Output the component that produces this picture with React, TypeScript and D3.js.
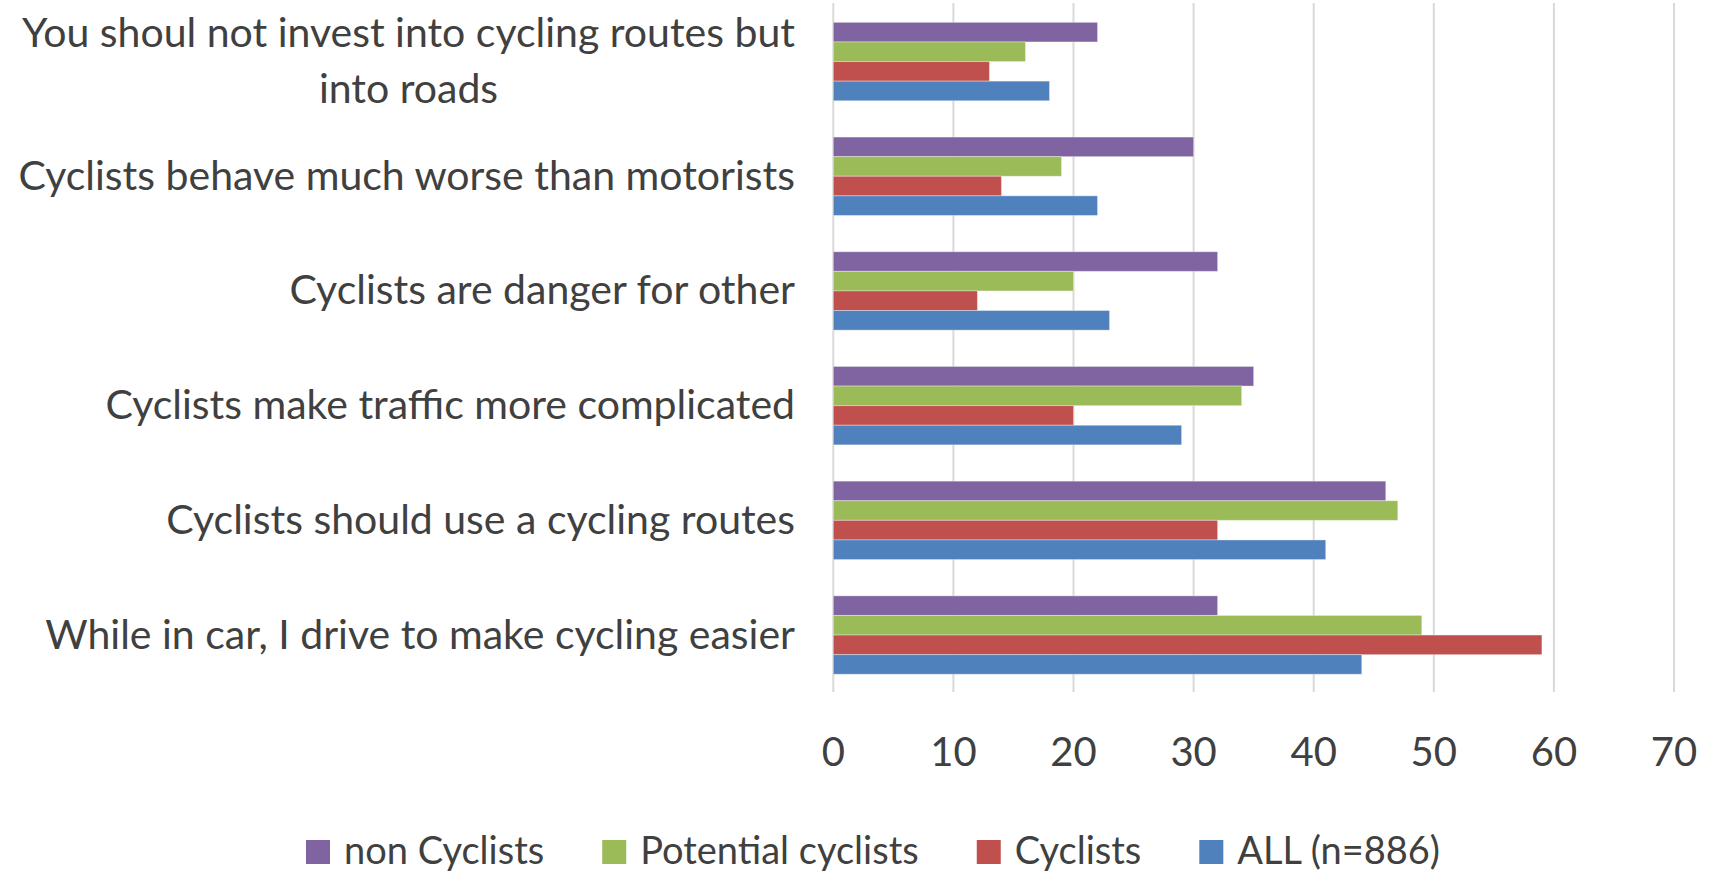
import React, { useRef, useEffect } from 'react';
import * as d3 from 'd3';

const categories = [
    ["You shoul not invest into cycling routes but", "into roads"],
    ["Cyclists behave much worse than motorists"],
    ["Cyclists are danger for other"],
    ["Cyclists make traffic more complicated"],
    ["Cyclists should use a cycling routes"],
    ["While in car, I drive to make cycling easier"],
];

const seriesNames = ["non Cyclists", "Potential cyclists", "Cyclists", "ALL (n=886)"];
const seriesColors = ["#8064A2", "#9BBB59", "#C0504D", "#4F81BD"];

// one value per category, top to bottom
const nonCyclists = [22, 30, 32, 35, 46, 32];
const potentialCyclists = [16, 19, 20, 34, 47, 49];
const cyclists = [13, 14, 12, 20, 32, 59];
const allRespondents = [18, 22, 23, 29, 41, 44];

const xTicks = [0, 10, 20, 30, 40, 50, 60, 70];

function App() {
    const ref = useRef(null);

    useEffect(() => {
        const width = 1714;
        const height = 874;
        const font = "Lato, 'Open Sans', sans-serif";
        const textColor = "#404040";

        const svg = d3.select(ref.current);
        svg.selectAll("*").remove();

        const x = d3.scaleLinear().domain([0, 70]).range([833.3, 1674]);
        const y = d3.scaleBand()
            .domain(categories.map((c, i) => String(i)))
            .range([4.2, 692.4])
            .paddingInner(0.3165)
            .paddingOuter(0.3165 / 2);
        const ySub = d3.scaleBand()
            .domain(seriesNames)
            .range([0, y.bandwidth()]);

        const series = [nonCyclists, potentialCyclists, cyclists, allRespondents];

        // gridlines
        svg.append("g")
            .selectAll("line")
            .data(xTicks)
            .enter().append("line")
            .attr("x1", d => x(d))
            .attr("x2", d => x(d))
            .attr("y1", 3)
            .attr("y2", 692)
            .attr("stroke", "#d9d9d9")
            .attr("stroke-width", 2);

        // bars
        const groups = svg.append("g")
            .selectAll("g")
            .data(categories)
            .enter().append("g")
            .attr("transform", (d, i) => "translate(0," + y(String(i)) + ")");

        groups.selectAll("rect")
            .data((d, i) => series.map((s, k) => ({ name: seriesNames[k], value: s[i], color: seriesColors[k] })))
            .enter().append("rect")
            .attr("x", x(0))
            .attr("y", d => ySub(d.name))
            .attr("width", d => x(d.value) - x(0))
            .attr("height", ySub.bandwidth())
            .attr("fill", d => d.color)
            .attr("stroke", "#ffffff")
            .attr("stroke-opacity", 0.35)
            .attr("stroke-width", 1);

        // category labels
        const lineGap = 56.7;
        const labels = svg.append("g")
            .selectAll("text")
            .data(categories)
            .enter().append("text")
            .attr("font-family", font)
            .attr("font-size", 41)
            .attr("fill", textColor)
            .attr("text-anchor", "middle");

        labels.each(function (lines, i) {
            const t = d3.select(this);
            const center = y(String(i)) + y.bandwidth() / 2;
            lines.forEach((line, k) => {
                t.append("tspan")
                    .attr("y", center + 13.5 + (k - (lines.length - 1) / 2) * lineGap)
                    .text(line);
            });
            // right-align the block, center lines within it
            const spans = t.selectAll("tspan").nodes();
            const widest = d3.max(spans, n => n.getComputedTextLength());
            t.selectAll("tspan").attr("x", 795 - widest / 2);
        });

        // x tick labels
        svg.append("g")
            .selectAll("text")
            .data(xTicks)
            .enter().append("text")
            .attr("x", d => x(d))
            .attr("y", 766)
            .attr("text-anchor", "middle")
            .attr("font-family", font)
            .attr("font-size", 40)
            .attr("fill", textColor)
            .text(d => d);

        // legend
        const legend = svg.append("g");
        const box = 24;
        const boxGap = 14;
        const itemGap = 58;
        const items = legend.selectAll("g")
            .data(seriesNames)
            .enter().append("g");
        items.append("rect")
            .attr("width", box)
            .attr("height", box)
            .attr("y", 840)
            .attr("fill", (d, i) => seriesColors[i]);
        items.append("text")
            .attr("x", box + boxGap)
            .attr("y", 864)
            .attr("font-family", font)
            .attr("font-size", 38)
            .attr("fill", textColor)
            .text(d => d);

        const widths = items.select("text").nodes().map(n => n.getComputedTextLength());
        const total = d3.sum(widths) + seriesNames.length * (box + boxGap) + (seriesNames.length - 1) * itemGap;
        let cursor = 873 - total / 2;
        items.attr("transform", (d, i) => {
            const tx = cursor;
            cursor += box + boxGap + widths[i] + itemGap;
            return "translate(" + tx + ",0)";
        });

        svg.attr("width", width).attr("height", height);
    }, []);

    return (
        <svg ref={ref} width="1714" height="874"
             style={{ position: "absolute", left: 0, top: 0, background: "#ffffff" }} />
    );
}

export default App;
